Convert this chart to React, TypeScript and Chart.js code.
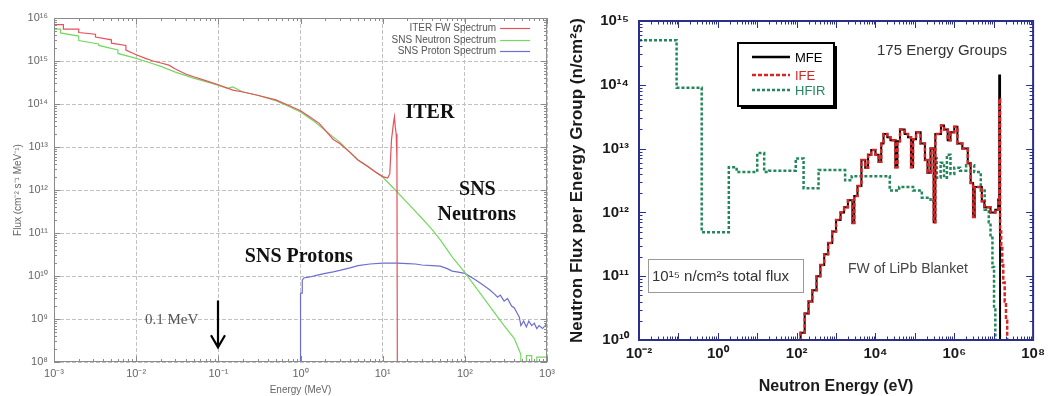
import React, { useEffect, useRef } from "react";
import { Chart, registerables } from "chart.js";

Chart.register(...registerables);

const SANS = '"Liberation Sans", Arial, sans-serif';
const SERIF = '"Liberation Serif", "Times New Roman", serif';

// ---------------- Left panel: energy (MeV) / flux (cm^-2 s^-1 MeV^-1) ----------------
const ITER_E = [0.001, 0.0013, 0.0013, 0.002, 0.002, 0.0032, 0.0032, 0.005, 0.005, 0.0075, 0.0075, 0.01, 0.013, 0.016, 0.02, 0.025, 0.03, 0.04, 0.05, 0.07, 0.1, 0.15, 0.2, 0.3, 0.5, 0.7, 1, 1.3, 1.7, 2.5, 3, 4, 5, 6.5, 8, 10, 11.5, 12.2, 12.8, 13.5, 13.9, 14.2, 14.6, 14.9, 15.1];
const ITER_F = [7e15, 7e15, 5.5e15, 5.5e15, 4.6e15, 4.2e15, 3.6e15, 3.1e15, 2.6e15, 2.3e15, 1.8e15, 1.4e15, 1.15e15, 1e15, 9e14, 8e14, 6.5e14, 5e14, 4.3e14, 3.5e14, 2.8e14, 2.1e14, 1.9e14, 1.6e14, 1.25e14, 9.5e13, 7e13, 5e13, 3.5e13, 1.5e13, 1.2e13, 7.5e12, 5e12, 3.6e12, 2.7e12, 2.05e12, 1.9e12, 2.4e12, 1.5e13, 3.5e13, 5e13, 3e13, 2e13, 5e12, 1e7];

const SNSN_E = [0.001, 0.0012, 0.0012, 0.002, 0.002, 0.0035, 0.0035, 0.006, 0.006, 0.01, 0.015, 0.02, 0.03, 0.05, 0.08, 0.1, 0.13, 0.15, 0.2, 0.3, 0.5, 0.7, 1, 1.5, 2, 3, 5, 7, 10, 15, 20, 30, 40, 50, 70, 100, 150, 200, 300, 400, 480, 480, 560, 560, 650, 650, 750, 750, 1000];
const SNSN_F = [5.5e15, 5.5e15, 4.5e15, 3.8e15, 3e15, 2.5e15, 2.3e15, 1.8e15, 1.5e15, 1.15e15, 9e14, 7.5e14, 5.5e14, 4e14, 3.1e14, 2.7e14, 2.3e14, 2.5e14, 1.9e14, 1.6e14, 1.2e14, 9e13, 6.5e13, 3.8e13, 2.4e13, 1.3e13, 5e12, 3.2e12, 2e12, 9e11, 5e11, 2.2e11, 1.2e11, 7e10, 2.8e10, 1.2e10, 4.2e9, 2e9, 7e8, 3.5e8, 1.5e8, 5e7, 5e7, 1.4e8, 1.4e8, 5e7, 5e7, 1.3e8, 1.3e8];

const SNSP_E = [1, 1, 1.05, 1.05, 1.1, 1.3, 1.6, 2, 2.5, 3, 4, 5, 7, 10, 15, 20, 25, 30, 40, 50, 60, 70, 80, 100, 130, 160, 200, 230, 250, 270, 300, 330, 370, 400, 430, 460, 480, 520, 560, 600, 650, 700, 750, 800, 880, 950, 1000, 1000];
const SNSP_F = [1e7, 4e9, 4e9, 8e9, 9e9, 9.5e9, 1.05e10, 1.15e10, 1.25e10, 1.35e10, 1.55e10, 1.75e10, 1.9e10, 2e10, 2e10, 1.95e10, 1.9e10, 1.8e10, 1.75e10, 1.7e10, 1.5e10, 1.3e10, 1.25e10, 1.15e10, 8.5e9, 6.5e9, 4.8e9, 3.8e9, 3.2e9, 3.6e9, 2.6e9, 3e9, 2e9, 1.8e9, 1.4e9, 1.1e9, 7e8, 9e8, 6.5e8, 9e8, 7e8, 8e8, 6e8, 7e8, 6e8, 7e8, 8e8, 1.3e9];

const LEFT_X_TICKS = [1e-3, 1e-2, 1e-1, 1, 10, 100, 1000];
const LEFT_Y_TICKS = [1e8, 1e9, 1e10, 1e11, 1e12, 1e13, 1e14, 1e15, 1e16];
const LEFT_NAMES = ["ITER FW Spectrum", "SNS Neutron Spectrum", "SNS Proton Spectrum"];
const LEFT_COLORS = ["#e8505a", "#74d862", "#6d6dd2"];

// annotation anchors in data units (MeV, flux)
const LEFT_NOTES = [
  { text: "ITER", x: 18.9, y: 4.7e13, align: "left" },
  { text: "SNS", x: 142, y: 7.6e11, align: "center" },
  { text: "Neutrons", x: 140, y: 2e11, align: "center" },
  { text: "SNS Protons", x: 0.21, y: 2.1e10, align: "left" },
];
const ARROW_NOTE = { text: "0.1 MeV", textX: 0.0128, textY: 7.6e8, x: 0.1, yFrom: 2.7e9, yTo: 2.2e8 };

// ---------------- Right panel: neutron energy (eV) / flux per group ----------------
const MFE_E = [100, 126, 160, 200, 250, 320, 400, 500, 630, 800, 1000, 1300, 1600, 2000, 2600, 2900, 3500, 4400, 5500, 6500, 7800, 1e4, 1.2e4, 1.4e4, 1.6e4, 2e4, 2.4e4, 3.2e4, 3.6e4, 4.2e4, 5.5e4, 6.7e4, 8e4, 9e4, 1.07e5, 1.4e5, 1.8e5, 2.1e5, 2.5e5, 3e5, 3.3e5, 4.6e5, 5.5e5, 6.8e5, 8e5, 1e6, 1.2e6, 1.6e6, 2.2e6, 2.6e6, 3e6, 3.3e6, 3.9e6, 5e6, 5.8e6, 8.3e6, 1.1e7, 1.3e7, 1.38e7, 1.45e7, 1.6e7];
const MFE_F = [1e9, 1.3e10, 2.6e10, 4e10, 6e10, 1e11, 1.5e11, 2.2e11, 3.3e11, 5e11, 7.6e11, 1e12, 1.2e12, 1.55e12, 6.8e11, 1.8e12, 2.6e12, 6.6e12, 5e12, 8e12, 9.5e12, 8e12, 6.2e12, 1.2e13, 1.7e13, 1.5e13, 1.35e13, 5.1e12, 1.3e13, 2e13, 1.7e13, 1.5e13, 5.1e12, 1.4e13, 1.8e13, 1.2e13, 6.6e12, 4.2e12, 1e13, 7e11, 1.7e13, 2.3e13, 2e13, 1.35e13, 1.8e13, 2.2e13, 1.2e13, 1e13, 5.9e12, 2.9e12, 8.5e11, 2.5e12, 2.5e12, 1.5e12, 1.2e12, 1e12, 1.1e12, 1.6e12, 1.4e14, 1e9, 1e9];

const IFE_E = [100, 126, 160, 200, 250, 320, 400, 500, 630, 800, 1000, 1300, 1600, 2000, 2600, 2900, 3500, 4400, 5500, 6500, 7800, 1e4, 1.2e4, 1.4e4, 1.6e4, 2e4, 2.4e4, 3.2e4, 3.6e4, 4.2e4, 5.5e4, 6.7e4, 8e4, 9e4, 1.07e5, 1.4e5, 1.8e5, 2.1e5, 2.5e5, 3e5, 3.3e5, 4.6e5, 5.5e5, 6.8e5, 8e5, 1e6, 1.2e6, 1.6e6, 2.2e6, 2.6e6, 3e6, 3.3e6, 3.9e6, 5e6, 5.8e6, 8.3e6, 1.1e7, 1.3e7, 1.38e7, 1.45e7, 1.55e7, 1.65e7, 1.75e7, 1.9e7, 2.05e7, 2.2e7, 2.4e7];
const IFE_F = [1e9, 1.3e10, 2.6e10, 4e10, 6e10, 1e11, 1.5e11, 2.2e11, 3.3e11, 5e11, 7.6e11, 1e12, 1.2e12, 1.55e12, 6.8e11, 1.8e12, 2.6e12, 6.6e12, 5e12, 8e12, 9.5e12, 8e12, 6.2e12, 1.2e13, 1.7e13, 1.5e13, 1.35e13, 5.1e12, 1.3e13, 2e13, 1.7e13, 1.5e13, 5.1e12, 1.4e13, 1.8e13, 1.2e13, 6.6e12, 4.2e12, 1e13, 7e11, 1.7e13, 2.3e13, 2e13, 1.35e13, 1.8e13, 2.2e13, 1.2e13, 1e13, 5.9e12, 2.9e12, 8.5e11, 2.5e12, 2.5e12, 1.5e12, 1.2e12, 1e12, 1.1e12, 1.6e12, 6e13, 5e11, 3e11, 1.5e11, 8e10, 4e10, 2e10, 1e9, 1e9];

const HFIR_E = [0.01, 0.09, 0.39, 1.9, 3, 10, 15, 20, 95, 150, 360, 1700, 2500, 2.3e4, 4e4, 9e4, 1.5e5, 2.5e5, 3.2e5, 3.6e5, 4.5e5, 5.5e5, 6.5e5, 8e5, 1e6, 1.4e6, 2e6, 3.2e6, 4.7e6, 5.9e6, 7.5e6, 8.3e6, 9.3e6, 1.02e7, 1.1e7, 2e7];
const HFIR_F = [5e14, 9e13, 4.9e11, 5.1e12, 4.3e12, 8.5e12, 4.3e12, 4.5e12, 7e12, 2.4e12, 4.6e12, 3.2e12, 3.7e12, 2.2e12, 2.5e12, 2.2e12, 1.7e12, 1.5e12, 7e12, 3.5e12, 6e12, 3.5e12, 8e12, 4e12, 5e12, 4.5e12, 5.5e12, 4.3e12, 2.2e12, 1.1e12, 7e11, 4e11, 1.4e11, 3e10, 1e9, 1e9];

const RIGHT_X_TICKS = [1e-2, 1, 1e2, 1e4, 1e6, 1e8];
const RIGHT_Y_TICKS = [1e10, 1e11, 1e12, 1e13, 1e14, 1e15];
const RIGHT_NAMES = ["MFE", "IFE", "HFIR"];
const RIGHT_COLORS = ["#000000", "#d42626", "#22875a"];

// ---------------- helpers ----------------
const SUP: Record<string, string> = {
  "0": "\u2070", "1": "\u00b9", "2": "\u00b2", "3": "\u00b3", "4": "\u2074",
  "5": "\u2075", "6": "\u2076", "7": "\u2077", "8": "\u2078", "9": "\u2079", "-": "\u207b",
};
const pow10 = (v: number) =>
  "10" + String(Math.round(Math.log10(v))).split("").map((c) => SUP[c] ?? c).join("");
const pts = (xs: number[], ys: number[]) => xs.map((x, i) => ({ x, y: ys[i] }));

function logTicks(ctx: any, scale: any, horizontal: boolean, lenMajor: number, lenMinor: number, ca: any) {
  const lo = Math.floor(Math.log10(scale.min));
  const hi = Math.ceil(Math.log10(scale.max));
  for (let d = lo; d <= hi; d++) {
    for (let k = 1; k <= 9; k++) {
      const v = k * Math.pow(10, d);
      if (v < scale.min * 0.999 || v > scale.max * 1.001) continue;
      const len = k === 1 ? lenMajor : lenMinor;
      const p = Math.round(scale.getPixelForValue(v)) + 0.5;
      if (horizontal) {
        ctx.moveTo(p, ca.bottom); ctx.lineTo(p, ca.bottom - len);
        ctx.moveTo(p, ca.top); ctx.lineTo(p, ca.top + len);
      } else {
        ctx.moveTo(ca.left, p); ctx.lineTo(ca.left + len, p);
        ctx.moveTo(ca.right, p); ctx.lineTo(ca.right - len, p);
      }
    }
  }
}

// ---------------- left plugin ----------------
const leftDecor = {
  id: "leftDecor",
  afterDatasetsDraw(chart: any) {
    const { ctx, chartArea: ca, scales } = chart;
    const xs = scales.x, ys = scales.y;
    ctx.save();
    ctx.strokeStyle = "#8a8a8a";
    ctx.lineWidth = 1;
    ctx.strokeRect(ca.left + 0.5, ca.top + 0.5, ca.width - 1, ca.height - 1);
    ctx.beginPath();
    logTicks(ctx, xs, true, 6, 3, ca);
    logTicks(ctx, ys, false, 6, 3, ca);
    ctx.stroke();

    // legend (text right, sample line on the right)
    ctx.font = `10px ${SANS}`;
    ctx.textAlign = "right";
    ctx.textBaseline = "middle";
    const rows = [10, 22, 33];
    LEFT_NAMES.forEach((name, i) => {
      const y = ca.top + rows[i];
      ctx.fillStyle = "#555";
      ctx.fillText(name, ca.right - 51, y);
      ctx.strokeStyle = LEFT_COLORS[i];
      ctx.lineWidth = 1.2;
      ctx.beginPath();
      ctx.moveTo(ca.right - 47, y + 0.5);
      ctx.lineTo(ca.right - 17, y + 0.5);
      ctx.stroke();
    });

    // bold serif annotations
    ctx.fillStyle = "#111";
    ctx.font = `bold 20px ${SERIF}`;
    ctx.textBaseline = "alphabetic";
    LEFT_NOTES.forEach((n) => {
      ctx.textAlign = n.align as CanvasTextAlign;
      ctx.fillText(n.text, xs.getPixelForValue(n.x), ys.getPixelForValue(n.y));
    });

    // 0.1 MeV arrow
    ctx.font = `15px ${SERIF}`;
    ctx.fillStyle = "#555";
    ctx.textAlign = "left";
    ctx.fillText(ARROW_NOTE.text, xs.getPixelForValue(ARROW_NOTE.textX), ys.getPixelForValue(ARROW_NOTE.textY));
    const ax = Math.round(xs.getPixelForValue(ARROW_NOTE.x));
    const y0 = ys.getPixelForValue(ARROW_NOTE.yFrom);
    const y1 = ys.getPixelForValue(ARROW_NOTE.yTo);
    ctx.strokeStyle = "#000";
    ctx.lineWidth = 2.2;
    ctx.beginPath();
    ctx.moveTo(ax, y0);
    ctx.lineTo(ax, y1);
    ctx.moveTo(ax - 7, y1 - 12);
    ctx.lineTo(ax, y1);
    ctx.lineTo(ax + 7, y1 - 12);
    ctx.stroke();
    ctx.restore();
  },
};

// ---------------- right plugin ----------------
const rightDecor = {
  id: "rightDecor",
  afterDatasetsDraw(chart: any) {
    const { ctx, chartArea: ca, scales } = chart;
    ctx.save();
    // inward ticks + frame
    ctx.strokeStyle = "#2a2f8c";
    ctx.lineWidth = 1;
    ctx.beginPath();
    logTicks(ctx, scales.x, true, 7, 3.5, ca);
    logTicks(ctx, scales.y, false, 7, 3.5, ca);
    ctx.stroke();
    ctx.lineWidth = 2;
    ctx.strokeRect(ca.left, ca.top, ca.width, ca.height);

    // legend box with shadow
    const bx = ca.left + 99, by = ca.top + 22, bw = 96, bh = 63;
    ctx.fillStyle = "#000";
    ctx.fillRect(bx + 3, by + 3, bw, bh);
    ctx.fillStyle = "#fff";
    ctx.fillRect(bx, by, bw, bh);
    ctx.strokeStyle = "#000";
    ctx.lineWidth = 2;
    ctx.strokeRect(bx, by, bw, bh);
    const rowY = [14, 32, 47];
    const dashes = [[], [4, 2], [3, 2]];
    ctx.font = `13px ${SANS}`;
    ctx.textAlign = "left";
    ctx.textBaseline = "middle";
    RIGHT_NAMES.forEach((name, i) => {
      const y = by + rowY[i];
      ctx.strokeStyle = RIGHT_COLORS[i];
      ctx.lineWidth = 2.5;
      ctx.setLineDash(dashes[i]);
      ctx.beginPath();
      ctx.moveTo(bx + 14, y);
      ctx.lineTo(bx + 52, y);
      ctx.stroke();
      ctx.setLineDash([]);
      ctx.fillStyle = RIGHT_COLORS[i];
      ctx.fillText(name, bx + 57, y + 1);
    });

    // text notes
    ctx.fillStyle = "#333";
    ctx.font = `15px ${SANS}`;
    ctx.fillText("175 Energy Groups", ca.left + 238, ca.top + 30);
    ctx.font = `14px ${SANS}`;
    ctx.fillStyle = "#444";
    ctx.fillText("FW of LiPb Blanket", ca.left + 209, ca.top + 248);

    // total flux box
    const tx = ca.left + 9, ty = ca.top + 238;
    ctx.fillStyle = "#fff";
    ctx.fillRect(tx, ty, 155, 33);
    ctx.strokeStyle = "#9a9a9a";
    ctx.lineWidth = 1;
    ctx.strokeRect(tx + 0.5, ty + 0.5, 155, 33);
    ctx.fillStyle = "#333";
    ctx.font = `15px ${SANS}`;
    ctx.fillText("10\u00b9\u2075 n/cm\u00b2s total flux", tx + 4, ty + 18);
    ctx.restore();
  },
};

// ---------------- chart configs ----------------
function leftConfig(): any {
  const line = (i: number, data: any[]) => ({
    label: LEFT_NAMES[i],
    data,
    borderColor: LEFT_COLORS[i],
    borderWidth: 1.2,
    pointRadius: 0,
    fill: false,
    tension: 0,
  });
  const tickFont = { size: 11, family: SANS };
  return {
    type: "line",
    data: {
      datasets: [
        line(0, pts(ITER_E, ITER_F)),
        line(1, pts(SNSN_E, SNSN_F)),
        line(2, pts(SNSP_E, SNSP_F)),
      ],
    },
    options: {
      responsive: false,
      animation: false,
      events: [],
      layout: { padding: { left: 0, top: 18, right: 12, bottom: 0 } },
      plugins: { legend: { display: false }, tooltip: { enabled: false } },
      scales: {
        x: {
          type: "logarithmic",
          min: 1e-3,
          max: 1e3,
          afterBuildTicks: (s: any) => { s.ticks = LEFT_X_TICKS.map((value) => ({ value })); },
          afterFit: (s: any) => { s.height = 34; },
          grid: { color: "#c2c2c2", drawTicks: false },
          border: { display: false, dash: [4, 2] },
          ticks: { callback: (v: any) => pow10(Number(v)), color: "#666", font: tickFont, padding: 5, maxRotation: 0, autoSkip: false },
          title: { display: true, text: "Energy (MeV)", color: "#666", font: { size: 10, family: SANS }, padding: { top: 5, bottom: 0 } },
        },
        y: {
          type: "logarithmic",
          min: 1e8,
          max: 1e16,
          afterBuildTicks: (s: any) => { s.ticks = LEFT_Y_TICKS.map((value) => ({ value })); },
          afterFit: (s: any) => { s.width = 54; },
          grid: { color: "#c2c2c2", drawTicks: false },
          border: { display: false, dash: [4, 2] },
          ticks: { callback: (v: any) => pow10(Number(v)), color: "#666", font: tickFont, padding: 6, autoSkip: false },
          title: { display: true, text: "Flux (cm\u207b\u00b2 s\u207b\u00b9 MeV\u207b\u00b9)", color: "#666", font: { size: 10, family: SANS }, padding: { top: 12, bottom: 0 } },
        },
      },
    },
    plugins: [leftDecor],
  };
}

function rightConfig(): any {
  const tickFont = { size: 15, weight: "bold", family: SANS };
  return {
    type: "line",
    data: {
      datasets: [
        { label: RIGHT_NAMES[1], data: pts(IFE_E, IFE_F), borderColor: RIGHT_COLORS[1], borderWidth: 2.5, borderDash: [4, 2], stepped: "before", pointRadius: 0, fill: false },
        { label: RIGHT_NAMES[0], data: pts(MFE_E, MFE_F), borderColor: RIGHT_COLORS[0], borderWidth: 2, stepped: "before", pointRadius: 0, fill: false },
        { label: RIGHT_NAMES[2], data: pts(HFIR_E, HFIR_F), borderColor: RIGHT_COLORS[2], borderWidth: 2.5, borderDash: [3, 2], stepped: "before", pointRadius: 0, fill: false },
      ],
    },
    options: {
      responsive: false,
      animation: false,
      events: [],
      layout: { padding: { left: 0, top: 21, right: 13, bottom: 0 } },
      plugins: { legend: { display: false }, tooltip: { enabled: false } },
      scales: {
        x: {
          type: "logarithmic",
          min: 1e-2,
          max: 1e8,
          afterBuildTicks: (s: any) => { s.ticks = RIGHT_X_TICKS.map((value) => ({ value })); },
          afterFit: (s: any) => { s.height = 56; },
          grid: { display: false, drawTicks: false },
          border: { display: false },
          ticks: { callback: (v: any) => pow10(Number(v)), color: "#1a1a1a", font: tickFont, padding: 5, maxRotation: 0, autoSkip: false },
          title: { display: true, text: "Neutron Energy (eV)", color: "#1a1a1a", font: { size: 16, weight: "bold", family: SANS }, padding: { top: 1, bottom: 0 } },
        },
        y: {
          type: "logarithmic",
          min: 1e10,
          max: 1e15,
          afterBuildTicks: (s: any) => { s.ticks = RIGHT_Y_TICKS.map((value) => ({ value })); },
          afterFit: (s: any) => { s.width = 79; },
          grid: { display: false, drawTicks: false },
          border: { display: false },
          ticks: { callback: (v: any) => pow10(Number(v)), color: "#1a1a1a", font: tickFont, padding: 10, autoSkip: false },
          title: { display: true, text: "Neutron Flux per Energy Group (n/cm\u00b2s)", color: "#1a1a1a", font: { size: 17, weight: "bold", family: SANS }, padding: { top: 7, bottom: 0 } },
        },
      },
    },
    plugins: [rightDecor],
  };
}

function ChartCanvas({ make, width, height, left }: { make: () => any; width: number; height: number; left: number }) {
  const ref = useRef<HTMLCanvasElement>(null);
  useEffect(() => {
    if (!ref.current) return;
    const chart = new Chart(ref.current, make());
    return () => chart.destroy();
  }, [make]);
  return (
    <canvas
      ref={ref}
      width={width}
      height={height}
      style={{ position: "absolute", left, top: 0, width, height }}
    />
  );
}

export default function App() {
  return (
    <div style={{ position: "fixed", left: 0, top: 0, width: 1050, height: 396, background: "#fff", overflow: "hidden" }}>
      <ChartCanvas make={leftConfig} width={560} height={396} left={0} />
      <ChartCanvas make={rightConfig} width={490} height={396} left={560} />
    </div>
  );
}
